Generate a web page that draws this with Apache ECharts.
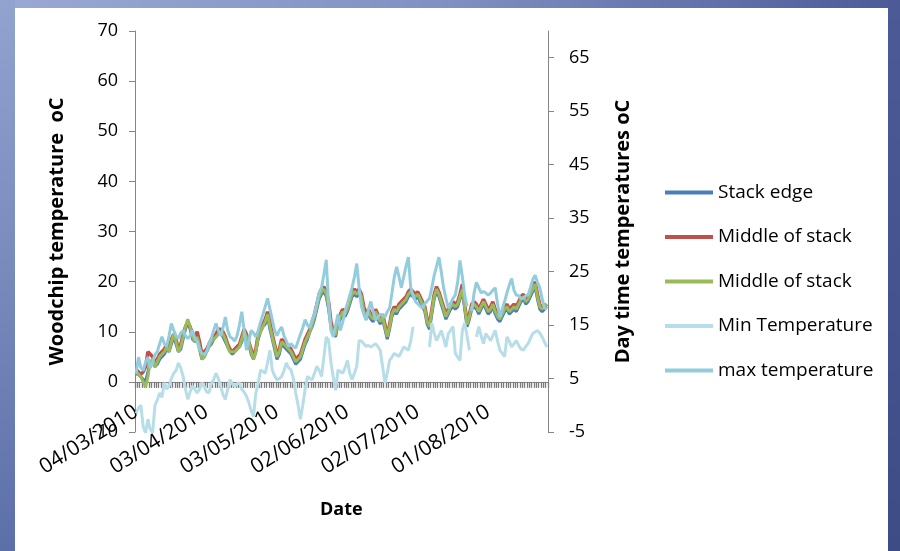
<!DOCTYPE html>
<html>
<head>
<meta charset="utf-8">
<script src="https://cdn.jsdelivr.net/npm/echarts@6/dist/echarts.min.js"></script>
<style>
  html, body { margin: 0; padding: 0; }
  body {
    width: 900px; height: 551px; overflow: hidden; position: relative;
    background: linear-gradient(90deg, #9aa9d3 0%, #7f90c3 50%, #4c5b97 100%);
  }
  #side { position: absolute; left: 0; top: 0; width: 15px; height: 551px;
    background: linear-gradient(180deg, #93a3cf 0%, #5d6fa9 100%); }
  #right { position: absolute; left: 888px; top: 0; width: 12px; height: 551px;
    background: linear-gradient(180deg, #4c5b97 0%, #3e4c86 100%); }
  #paper { position: absolute; left: 15px; top: 8px; width: 873px; height: 543px; background: #fff; }
  #chart { position: absolute; left: 0; top: 0; width: 900px; height: 551px; }
</style>
</head>
<body>
<div id="side"></div>
<div id="right"></div>
<div id="paper"></div>
<div id="chart"></div>
<script>
// daily readings from 04/03/2010
const startDate = [2010, 2, 4];
const dayCount = 176;
const tickLabelsLeft = [-10, 0, 10, 20, 30, 40, 50, 60, 70];
const tickLabelsRight = [-5, 5, 15, 25, 35, 45, 55, 65];

const stackEdge = [
  1.5, 1.5, 1, 0.5, 0, 2, 4, 4, 3, 3.5,
  4.5, 5, 5.5, 6.5, 6, 7.5, 9, 7.5, 6, 6.5,
  8.5, 10.5, 12, 10.5, 8.5, 8, 8.5, 6.5, 4.5, 5,
  6, 7, 7.5, 8.5, 9, 9.5, 10, 9, 8, 7,
  6, 5.5, 6, 6.5, 7, 8, 9.5, 8.5, 7.5, 5.5,
  4.5, 6, 8.5, 10, 11, 11.5, 13, 10.5, 8.5, 6.5,
  4.5, 5.5, 7.5, 7, 6.5, 6, 5.5, 4.5, 3.5, 4,
  4.5, 6, 7.5, 8.5, 10, 11, 12.5, 14.5, 16.5, 17.5,
  18, 17, 14.5, 11, 9.5, 9, 11.5, 12.5, 13.5, 13,
  14, 15.5, 17, 17.5, 17, 17.5, 16.5, 14, 12.5, 13.5,
  12.5, 12, 13.5, 12.5, 11.5, 12.5, 10.5, 8.5, 10.5, 13,
  14, 13.5, 14.5, 15, 15.5, 16, 17, 17.5, 17, 16.5,
  17, 16, 15, 14, 11.5, 10.5, 13.5, 16.5, 18, 17,
  15.5, 14, 12.5, 13.5, 14.5, 15, 14.5, 15, 16.5, 18,
  14.5, 11, 12.5, 14.5, 15, 14.5, 13.5, 14.5, 15.5, 14.5,
  13.5, 14, 15, 13.5, 12.5, 12, 13, 14, 14.5, 13.5,
  14, 14.5, 14, 15, 16, 16.5, 15.5, 16, 17, 18,
  19, 16.5, 14.5, 14, 14.5, 15
];

const middleRed = [
  2.5, 2, 1.5, 2, 3, 6, 5.5, 5, 4, 4.5,
  5.5, 6, 6.5, 7.5, 6.5, 8.5, 9.5, 8.5, 6.5, 7.5,
  9.5, 11, 12, 11, 9.5, 9, 10, 8, 5.5, 6,
  6.5, 7.5, 8.5, 9, 9.5, 10.5, 10.5, 10, 9, 7.5,
  6.5, 6, 6.5, 7, 7.5, 9, 10.5, 9.5, 8, 6.5,
  5, 6.5, 9.5, 10.5, 11.5, 12.5, 14, 12, 9.5, 7.5,
  5.5, 6.5, 8.5, 8, 7.5, 7, 6.5, 5.5, 4.5, 5,
  5.5, 7, 8.5, 9.5, 10.5, 12, 13.5, 15.5, 17.5, 18.5,
  19, 18, 16, 12, 10, 9.5, 12.5, 13.5, 14.5, 14,
  15, 16.5, 18, 18.5, 18, 18.5, 17.5, 15, 13.5, 14.5,
  13.5, 13, 14.5, 13.5, 12.5, 13.5, 11.5, 9, 11.5, 14,
  15, 14.5, 15.5, 16, 16.5, 17, 18, 18.5, 18, 17.5,
  18, 17, 16, 15, 12.5, 11.5, 14.5, 17.5, 19, 18,
  16.5, 15, 13.5, 14.5, 15.5, 16, 15.5, 16, 17.5, 19.5,
  15.5, 12, 13.5, 15.5, 16, 15.5, 14.5, 15.5, 16.5, 15.5,
  14.5, 15, 16, 14.5, 13.5, 13, 14, 15, 15.5, 14.5,
  15, 15.5, 15, 16, 17, 17.5, 16.5, 17, 18, 19,
  20, 17.5, 15.5, 14.5, 15, 15.5
];

const middleGreen = [
  2, 1.5, 1, 0, -1, 1, 4, 4.5, 3, 4,
  5, 5.5, 6, 7, 6, 8, 9.5, 8, 6, 7,
  9, 11, 12.5, 11, 9, 8, 9, 7, 4.5, 5,
  6, 7, 8, 8.5, 9, 9.5, 10, 9.5, 8.5, 7,
  6, 6, 6, 6.5, 7, 8.5, 10, 9, 8, 6,
  4.5, 6, 9, 10, 11, 12, 13.5, 11, 9, 7,
  5, 6, 8, 7.5, 7, 6.5, 6, 5, 4, 4.5,
  5, 6.5, 8, 9, 10, 11.5, 13, 15, 17, 18,
  18.5, 17.5, 15, 11, 9.5, 9.5, 12, 13, 14, 13.5,
  14.5, 16, 17.5, 18, 17.5, 18, 17, 14, 13, 14,
  13, 12.5, 14, 13, 12, 13, 11, 9, 11, 13.5,
  14.5, 14, 15, 15.5, 16, 16.5, 17.5, 18, 17.5, 17,
  17.5, 16.5, 15.5, 14.5, 12, 11, 14, 17, 18.5, 17.5,
  16, 14.5, 13, 14, 15, 15.5, 15, 15.5, 17, 18.5,
  15, 11.5, 13, 15, 15.5, 15, 14, 15, 16, 15,
  14, 14.5, 15.5, 14, 13, 12.5, 13.5, 14.5, 15, 14,
  14.5, 15, 14.5, 15.5, 16.5, 17, 16, 16.5, 17.5, 18.5,
  19.5, 17, 15, 14.5, 15, 15.5
];

const minTemp = [
  -1.5, -0.5, 0, -4, -5.2, -2.6, -4.5, -5.2, 0, 1,
  2.3, 1.5, 4.2, 3, 3.6, 5, 6, 6.5, 7.9, 7,
  5.4, 3, 1.1, 2.5, 3.6, 3, 2.3, 3, 4.2, 3.5,
  2.5, 2.3, 4, 4.8, 6, 5, 3.6, 2, 1.1, 3,
  4.8, 4, 3.6, 4, 4.2, 3, 2.5, 1.7, 0.5, -1,
  -2.1, 2.3, 4, 6.6, 6.3, 6, 8, 10.3, 6.6, 5.5,
  4.8, 5, 5.4, 6.5, 7.9, 7, 6.6, 5, 2.3, 0,
  -2.6, 0, 3, 5.4, 5, 4.8, 6, 7.3, 6.5, 5.4,
  9, 12.8, 12.1, 8, 5.3, 2.8, 6.6, 6.3, 6, 7,
  8.4, 6, 4.8, 6, 7.3, 12.1, 12, 11.5, 11, 11.2,
  10.9, 11.2, 11.5, 11, 10.3, 7.3, 4.2, 6, 8.4, 9,
  9.7, 9.4, 9.1, 10, 10.9, 10.6, 10.3, 12, 14.7, null,
  null, null, null, null, null, 10.9, 15.4, 13.5, 12.1, 13,
  14, 12.5, 10.9, 13.4, 14, 14.7, 9.7, 9, 8.4, 14,
  15.4, 13, 10.3, null, null, 12.8, 14.7, 13, 11.5, 13.4,
  12.8, 12.1, 13, 14, 12, 10.3, 9.7, 9.1, 12.8, 12,
  10.9, 11.5, 12.1, 11.2, 10.5, 10.3, 11, 11.5, 12.5, 13.4,
  13.7, 14, 13.5, 12.8, 11.8, 10.9
];

const maxTemp = [
  6, 9, 7, 6.5, 8, 9, 7, 8, 9.5, 10,
  11.5, 12.8, 11.5, 11, 13, 15.3, 14, 13, 12.5, 13.5,
  14, 13, 12.5, 13, 14, 12.5, 12, 10.5, 9.7, 9.5,
  10, 11.5, 12.5, 14, 15.3, 14, 13, 14.5, 16.5, 14,
  12.8, 12.5, 12, 13, 15, 17.5, 14, 10.3, 12, 14,
  13.5, 12.8, 14, 15.5, 17, 18.5, 20, 18, 16, 14,
  13, 14, 14.6, 13, 12, 11, 11.5, 11, 10.7, 12,
  13.3, 14.5, 16, 15, 14.5, 16, 17, 19, 21.2, 22,
  24.5, 27.2, 19, 14, 12.8, 15, 17, 14, 15.5, 17.6,
  19, 20.5, 22, 24, 26.5, 22, 18.5, 17, 15.9, 18,
  19.4, 17.5, 15.9, 16.5, 17, 16.8, 16.5, 17.5, 18.2, 21,
  24, 25.9, 24, 22, 24, 26, 27.7, 22, 20.5, 19.4,
  19, 18.5, 18.2, 19, 19.5, 20, 22, 24.3, 26, 27.7,
  25, 22, 20, 18.2, 19, 20, 20.6, 23, 27.1, 24,
  20.6, 18.5, null, 17.6, 21, 23, 22, 21, 21.3, 21,
  20.6, 21, 21.5, 22, 19, 16.5, 18, 19.4, 21, 22.5,
  23.7, 21.5, 20.6, 20.5, 20, 20, 20.5, 20.6, 22, 23.5,
  24.3, 23, 22, 20, 18.2, 18
];

const dates = [];
for (let i = 0; i < dayCount; i++) {
  const d = new Date(startDate[0], startDate[1], startDate[2] + i);
  const dd = String(d.getDate()).padStart(2, '0');
  const mm = String(d.getMonth() + 1).padStart(2, '0');
  dates.push(dd + '/' + mm + '/' + d.getFullYear());
}

const font = 'Open Sans';
const axisGrey = '#868686';

let chart = echarts.init(document.getElementById('chart'), null, { renderer: 'canvas' });

chart.setOption({
  backgroundColor: 'transparent',
  animation: false,
  textStyle: { fontFamily: font, color: '#000' },
  grid: { left: 135, right: 352, top: 31, bottom: 119, containLabel: false, outerBoundsMode: 'none' },
  legend: {
    orient: 'vertical',
    left: 660,
    top: 178,
    itemWidth: 48,
    itemHeight: 4,
    itemGap: 25.5,
    icon: 'rect',
    textStyle: { fontFamily: font, fontSize: 19, color: '#000' },
    data: ['Stack edge', 'Middle of stack', 'Middle of stack ', 'Min Temperature', 'max temperature']
  },
  graphic: [{
    type: 'text', left: 320, top: 501,
    style: { text: 'Date', fontFamily: font, fontSize: 18, fontWeight: 'bold', fill: '#000' }
  }],
  xAxis: {
    type: 'category',
    data: dates,
    boundaryGap: true,
    axisLine: { onZero: true, lineStyle: { color: axisGrey, width: 1 } },
    axisTick: { show: true, interval: 0, length: 6, lineStyle: { color: '#7a7a7a', width: 1.3 } },
    axisLabel: { interval: 29, rotate: 32, margin: -22, fontFamily: font, fontSize: 21, color: '#000' },
    splitLine: { show: false }
  },
  yAxis: [
    {
      type: 'value',
      min: tickLabelsLeft[0],
      max: tickLabelsLeft[tickLabelsLeft.length - 1],
      interval: 10,
      name: 'Woodchip temperature  oC',
      nameLocation: 'middle',
      nameGap: 68,
      nameTextStyle: { fontFamily: font, fontSize: 20, fontWeight: 'bold', color: '#000' },
      axisLine: { show: true, lineStyle: { color: axisGrey } },
      axisTick: { show: true, length: 6, lineStyle: { color: axisGrey } },
      axisLabel: { margin: 17, fontFamily: font, fontSize: 18, color: '#000' },
      splitLine: { show: false }
    },
    {
      type: 'value',
      position: 'right',
      min: tickLabelsRight[0],
      max: 70,
      interval: 10,
      name: 'Day time temperatures oC',
      nameLocation: 'middle',
      nameGap: 65,
      nameRotate: 90,
      nameTextStyle: { fontFamily: font, fontSize: 20, fontWeight: 'bold', color: '#000' },
      axisLine: { show: true, lineStyle: { color: axisGrey } },
      axisTick: { show: true, length: 6, lineStyle: { color: axisGrey } },
      axisLabel: {
        margin: 21, fontFamily: font, fontSize: 18, color: '#000', showMaxLabel: false,
        formatter: v => (tickLabelsRight.indexOf(v) >= 0 ? String(v) : '')
      },
      splitLine: { show: false }
    }
  ],
  series: [
    { name: 'Stack edge', type: 'line', yAxisIndex: 0, data: stackEdge, showSymbol: false,
      itemStyle: { color: '#4a7ebb' }, lineStyle: { color: '#4a7ebb', width: 3 } },
    { name: 'Middle of stack', type: 'line', yAxisIndex: 0, data: middleRed, showSymbol: false,
      itemStyle: { color: '#c0504d' }, lineStyle: { color: '#c0504d', width: 3.5 } },
    { name: 'Middle of stack ', type: 'line', yAxisIndex: 0, data: middleGreen, showSymbol: false,
      itemStyle: { color: '#9bbb59' }, lineStyle: { color: '#9bbb59', width: 3 } },
    { name: 'Min Temperature', type: 'line', yAxisIndex: 1, data: minTemp, showSymbol: false,
      connectNulls: false,
      itemStyle: { color: '#b7dee8' }, lineStyle: { color: '#b7dee8', width: 3 } },
    { name: 'max temperature', type: 'line', yAxisIndex: 1, data: maxTemp, showSymbol: false,
      connectNulls: false,
      itemStyle: { color: '#93cddd' }, lineStyle: { color: '#93cddd', width: 3 } }
  ]
});
</script>
</body>
</html>
